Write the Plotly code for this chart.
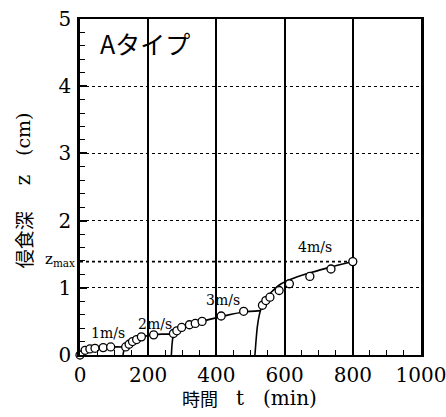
import plotly.graph_objects as go

# Measured erosion depth z (cm) against elapsed time t (min), per flow speed
t_1 = [0, 15, 29, 44, 68, 90]
z_1 = [0.0, 0.07, 0.09, 0.10, 0.11, 0.12]
t_2 = [134, 144, 154, 166, 180, 216]
z_2 = [0.12, 0.16, 0.20, 0.23, 0.27, 0.30]
t_3 = [274, 284, 298, 321, 338, 358, 414, 480]
z_3 = [0.32, 0.36, 0.41, 0.45, 0.47, 0.50, 0.58, 0.65]
t_4 = [535, 545, 557, 584, 614, 674, 736, 800]
z_4 = [0.74, 0.81, 0.86, 0.96, 1.06, 1.17, 1.28, 1.39]

# Fitted curves for each speed stage
ct_1 = [0, 5, 12, 25, 45, 70, 95, 128]
cz_1 = [0.0, 0.05, 0.075, 0.09, 0.10, 0.11, 0.12, 0.12]
ct_2 = [126, 129, 134, 142, 154, 170, 190, 215, 240, 270]
cz_2 = [0.0, 0.07, 0.12, 0.16, 0.20, 0.245, 0.28, 0.30, 0.31, 0.31]
ct_3 = [268, 270, 274, 284, 300, 330, 380, 430, 480, 531]
cz_3 = [0.0, 0.16, 0.30, 0.37, 0.41, 0.46, 0.53, 0.59, 0.64, 0.66]
ct_4 = [513, 516, 520, 526, 533, 545, 560, 590, 630, 680, 730, 800]
cz_4 = [0.0, 0.20, 0.42, 0.60, 0.72, 0.84, 0.93, 1.06, 1.15, 1.23, 1.30, 1.39]

ZMAX = 1.39
speed_labels = ["1m/s", "2m/s", "3m/s", "4m/s"]
label_t = [81, 220, 419, 689]
label_z = [0.33, 0.46, 0.82, 1.60]

x_ticks = [0, 200, 400, 600, 800, 1000]
y_ticks = [0, 1, 2, 3, 4, 5]

SERIF = "DejaVu Serif"
CJK = "Noto Sans CJK JP"

fig = go.Figure()

# z_max reference line
fig.add_trace(go.Scatter(x=[0, 800], y=[ZMAX, ZMAX], mode="lines",
                         line=dict(color="black", width=1.6, dash="dot"),
                         hoverinfo="skip", showlegend=False))

for ct, cz in [(ct_1, cz_1), (ct_2, cz_2), (ct_3, cz_3), (ct_4, cz_4)]:
    fig.add_trace(go.Scatter(x=ct, y=cz, mode="lines",
                             line=dict(color="black", width=1.6, shape="spline", smoothing=0.7),
                             showlegend=False, cliponaxis=False))

for t, z in [(t_1, z_1), (t_2, z_2), (t_3, z_3), (t_4, z_4)]:
    fig.add_trace(go.Scatter(x=t, y=z, mode="markers",
                             marker=dict(symbol="circle", size=8, color="white",
                                         line=dict(color="black", width=1.3)),
                             showlegend=False, cliponaxis=False))

annotations = []
for lab, lt, lz in zip(speed_labels, label_t, label_z):
    annotations.append(dict(x=lt, y=lz, text=lab, showarrow=False,
                            xanchor="center", yanchor="middle",
                            font=dict(family=SERIF, size=14, color="black")))

annotations.append(dict(x=191, y=4.64, text="Aタイプ", showarrow=False,
                        xanchor="center", yanchor="middle",
                        font=dict(family=CJK, size=25, color="black")))

annotations.append(dict(x=0, y=ZMAX, text="z<sub>max</sub>", showarrow=False,
                        xanchor="right", yanchor="middle", xshift=-3, yshift=2,
                        font=dict(family=SERIF, size=15, color="black")))

# Axis titles, built from pieces so the spacing follows the print
for txt, yy, fam, sz in [("(cm)", 0.655, SERIF, 19), ("z", 0.52, SERIF, 20),
                         ("侵食深", 0.342, CJK, 19)]:
    annotations.append(dict(xref="paper", yref="paper", x=-0.167, y=yy, text=txt,
                            xanchor="center", yanchor="middle",
                            textangle=-90, showarrow=False,
                            font=dict(family=fam, size=sz, color="black")))
for txt, xx, fam, sz in [("時間", 0.352, CJK, 18), ("t", 0.469, SERIF, 20),
                         ("(min)", 0.617, SERIF, 20)]:
    annotations.append(dict(xref="paper", yref="paper", x=xx, y=-0.128, text=txt,
                            xanchor="center", yanchor="middle",
                            showarrow=False, font=dict(family=fam, size=sz, color="black")))

fig.update_layout(
    template="none",
    width=446, height=417,
    margin=dict(l=80, r=25, t=19, b=62),
    paper_bgcolor="white", plot_bgcolor="white",
    showlegend=False,
    annotations=annotations,
    font=dict(family=SERIF, color="black"),
)

fig.update_xaxes(
    range=[0, 1000], tickvals=x_ticks, ticktext=[str(v) for v in x_ticks],
    showline=True, linecolor="black", linewidth=2, mirror=True,
    showgrid=True, gridcolor="black", gridwidth=1.5,
    zeroline=False, ticks="inside", ticklen=6, tickcolor="black", tickwidth=1.5,
    minor=dict(ticks="inside", dtick=50, ticklen=5, tickcolor="black", tickwidth=1.2, showgrid=False),
    tickfont=dict(family=SERIF, size=20, color="black"),
    ticklabelstandoff=1, ticklabeloverflow="allow",
)
fig.update_yaxes(
    range=[0, 5], tickvals=y_ticks, ticktext=[str(v) for v in y_ticks],
    showline=True, linecolor="black", linewidth=2.5, mirror=True,
    showgrid=True, gridcolor="black", gridwidth=1.2, griddash="dot",
    zeroline=False, ticks="inside", ticklen=7, tickcolor="black", tickwidth=1.5,
    minor=dict(ticks="inside", dtick=0.2, ticklen=5, tickcolor="black", tickwidth=1.2, showgrid=False),
    tickfont=dict(family=SERIF, size=20, color="black"),
    ticklabelstandoff=2, ticklabeloverflow="allow",
)

fig.write_html("out.html")
